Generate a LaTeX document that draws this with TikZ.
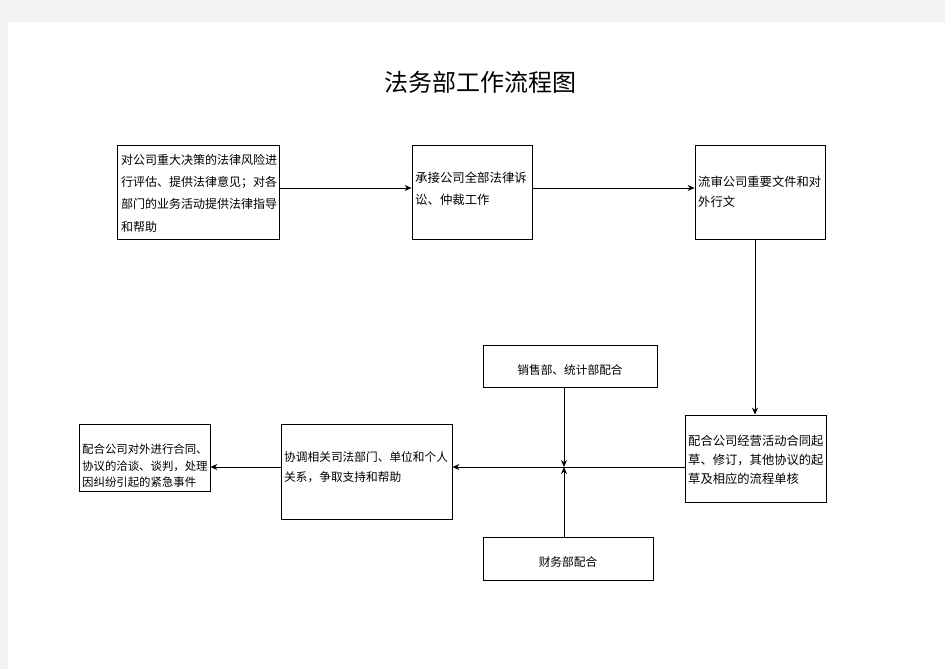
\documentclass[tikz,border=0pt]{standalone}
\usepackage{fontspec}
\setmainfont{Noto Sans CJK SC}
\usetikzlibrary{arrows.meta}
\definecolor{pagegray}{HTML}{F2F2F2}
\tikzset{
  box/.style={draw=black, line width=0.8pt, fill=white, inner sep=0pt},
  txt/.style={anchor=north west, inner sep=0pt, align=left, text=black},
  ctxt/.style={anchor=center, inner sep=0pt, text=black},
  arr/.style={draw=black, line width=0.8pt, -{Stealth[length=7pt,width=6pt]}},
}
\begin{document}
\begin{tikzpicture}[x=1pt,y=-1pt]
\useasboundingbox (0,0) rectangle (945,669);
\fill[pagegray] (0,0) rectangle (945,669);
\fill[white] (8,22) rectangle (945,669);

\node[ctxt, font=\fontsize{24}{28}\selectfont] (title) at (480,82) {法务部工作流程图};

% boxes
\node[box, minimum width=162pt, minimum height=94pt] (A) at (198,192) {};
\node[box, minimum width=120pt, minimum height=94pt] (B) at (472,192) {};
\node[box, minimum width=130pt, minimum height=94pt] (C) at (760,192) {};
\node[box, minimum width=174pt, minimum height=42pt] (D) at (570,366) {};
\node[box, minimum width=141pt, minimum height=87pt] (E) at (755.5,458.5) {};
\node[box, minimum width=171pt, minimum height=95pt] (F) at (366.5,471.5) {};
\node[box, minimum width=131pt, minimum height=67pt] (G) at (144.5,457.5) {};
\node[box, minimum width=170pt, minimum height=43pt] (H) at (568,558.5) {};

% texts
\node[txt, font=\fontsize{12}{22.3}\selectfont] (tA) at (121,154) {对公司重大决策的法律风险进\\行评估、提供法律意见；对各\\部门的业务活动提供法律指导\\和帮助};
\node[txt, font=\fontsize{12.4}{22}\selectfont] (tB) at (415,172) {承接公司全部法律诉\\讼、仲裁工作};
\node[txt, font=\fontsize{12.3}{20}\selectfont] (tC) at (698,176) {流审公司重要文件和对\\外行文};
\node[ctxt, font=\fontsize{11.7}{14}\selectfont] (tD) at (570,370) {销售部、统计部配合};
\node[txt, font=\fontsize{12.3}{18.8}\selectfont] (tE) at (688,435) {配合公司经营活动合同起\\草、修订，其他协议的起\\草及相应的流程单核};
\node[txt, font=\fontsize{11.7}{20}\selectfont] (tF) at (284,451) {协调相关司法部门、单位和个人\\关系，争取支持和帮助};
\node[txt, font=\fontsize{11.4}{16.2}\selectfont] (tG) at (82,444) {配合公司对外进行合同、\\协议的洽谈、谈判，处理\\因纠纷引起的紧急事件};
\node[ctxt, font=\fontsize{11.7}{14}\selectfont] (tH) at (568,562) {财务部配合};

% connectors
\coordinate (r1) at (0,188);
\coordinate (j) at (564,467);
\coordinate (cx) at (755,0);
\draw[arr] (A.east |- r1) -- (B.west |- r1);
\draw[arr] (B.east |- r1) -- (C.west |- r1);
\draw[arr] (cx |- C.south) -- (cx |- E.north);
\draw[arr] (E.west |- j) -- (F.east |- j);
\draw[arr] (F.west |- j) -- (G.east |- j);
\draw[arr] (j |- D.south) -- (j);
\draw[arr] (j |- H.north) -- (j);
\end{tikzpicture}
\end{document}
